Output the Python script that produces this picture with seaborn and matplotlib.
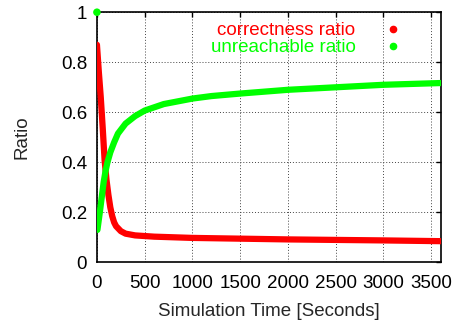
import numpy as np
import pandas as pd
import matplotlib
matplotlib.use("Agg")
import matplotlib.pyplot as plt
from matplotlib.lines import Line2D
import seaborn as sns

# ── Data ────────────────────────────────────────
corr_time = [0, 20, 40, 60, 80, 100, 120, 140, 160, 180, 200, 250, 300, 400,
             600, 1000, 1500, 2000, 2500, 3000, 3600]
corr_ratio = [0.87, 0.76, 0.66, 0.54, 0.41, 0.33, 0.27, 0.22, 0.185, 0.16, 0.145,
              0.125, 0.115, 0.108, 0.103, 0.098, 0.095, 0.092, 0.09, 0.088, 0.085]

unreach_start = (0, 1.0)
unreach_time = [5, 30, 50, 70, 90, 110, 140, 180, 220, 300, 400, 500, 700, 1000,
                1200, 1500, 2000, 2500, 3000, 3600]
unreach_ratio = [0.13, 0.20, 0.26, 0.32, 0.365, 0.40, 0.44, 0.48, 0.515, 0.555,
                 0.585, 0.607, 0.633, 0.655, 0.665, 0.675, 0.69, 0.70, 0.71, 0.717]

x_ticks = [0, 500, 1000, 1500, 2000, 2500, 3000, 3500]
y_ticks = [0, 0.2, 0.4, 0.6, 0.8, 1.0]
y_ticklabels = ["0", "0.2", "0.4", "0.6", "0.8", "1"]

RED = "#ff0000"
GREEN = "#00ff00"
FS = 13.5

sns.set_style("white")
plt.rcParams["font.family"] = ["Liberation Sans", "DejaVu Sans"]

fig = plt.figure(figsize=(4.53, 3.22), dpi=100)
ax = fig.add_axes([0.214, 0.185, 0.759, 0.777])

df_c = pd.DataFrame({"t": corr_time, "r": corr_ratio})
df_u = pd.DataFrame({"t": unreach_time, "r": unreach_ratio})

sns.lineplot(data=df_c, x="t", y="r", ax=ax, color=RED, linewidth=4.5,
             solid_capstyle="round", solid_joinstyle="round", zorder=3)
sns.lineplot(data=df_u, x="t", y="r", ax=ax, color=GREEN, linewidth=4.5,
             solid_capstyle="round", solid_joinstyle="round", zorder=4)
sns.scatterplot(x=[unreach_start[0]], y=[unreach_start[1]], ax=ax, color=GREEN,
                s=30, edgecolor="none", zorder=5, clip_on=False)

ax.set_xlim(0, 3600)
ax.set_ylim(0, 1)
ax.set_xticks(x_ticks)
ax.set_yticks(y_ticks)
ax.set_yticklabels(y_ticklabels)
ax.tick_params(axis="x", pad=9)
ax.tick_params(axis="y", pad=7)
ax.tick_params(direction="in", top=True, right=True, length=3.5, width=1,
               labelsize=FS, colors="black")
ax.grid(True, linestyle=(0, (1, 2)), color="#444444", linewidth=0.7)
for s in ax.spines.values():
    s.set_color("black")
    s.set_linewidth(1.2)

ax.set_xlabel("Simulation Time [Seconds]", fontsize=FS, labelpad=8)
ax.set_ylabel("Ratio", fontsize=FS, labelpad=22)

handles = [
    Line2D([], [], linestyle="none", marker="o", color=RED, markersize=4.5),
    Line2D([], [], linestyle="none", marker="o", color=GREEN, markersize=4.5),
]
ax.legend(handles, ["correctness ratio", "unreachable ratio"], loc="upper right",
          bbox_to_anchor=(0.9375, 0.99), frameon=False, markerfirst=False,
          fontsize=FS, labelcolor=[RED, GREEN], handletextpad=1.0,
          labelspacing=0.0, borderaxespad=0.0)

fig.savefig("out.png", dpi=100)
